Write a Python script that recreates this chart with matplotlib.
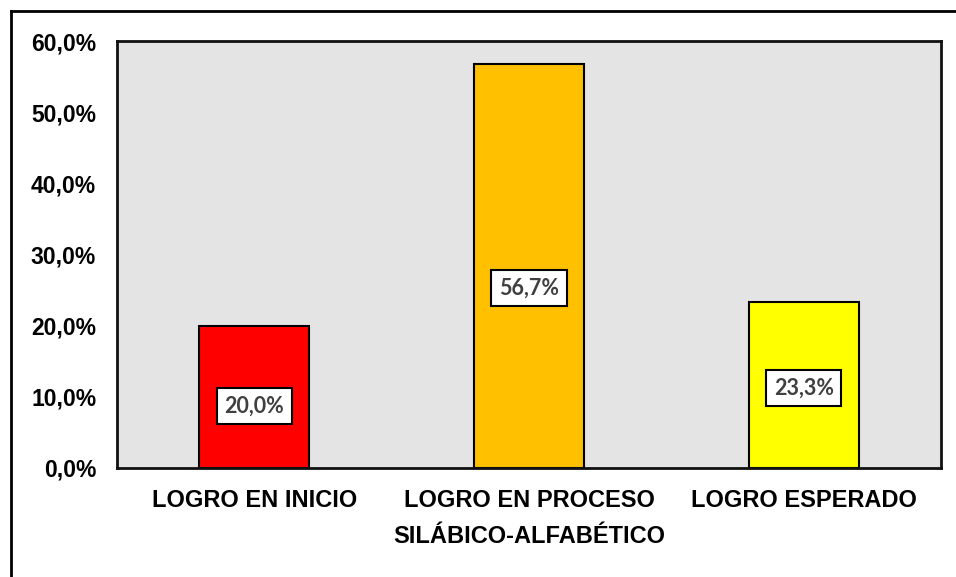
import matplotlib
matplotlib.use("Agg")
import matplotlib.pyplot as plt
from matplotlib.lines import Line2D
from matplotlib.ticker import FuncFormatter

categories = ["LOGRO EN INICIO", "LOGRO EN PROCESO\nSILÁBICO-ALFABÉTICO", "LOGRO ESPERADO"]
values = [20.0, 56.7, 23.3]
bar_colors = ["#FF0000", "#FFC000", "#FFFF00"]
label_y = [8.7, 25.3, 11.2]  # where the value boxes sit

fig = plt.figure(figsize=(9.56, 5.77), dpi=100)
ax = fig.add_axes([117 / 956, 1 - 468 / 577, 824 / 956, 427 / 577])
ax.set_facecolor("#E4E4E4")

x = range(len(categories))
ax.bar(x, values, width=0.4, color=bar_colors, edgecolor="black", linewidth=1.5, zorder=2)

for i, v in enumerate(values):
    ax.text(i, label_y[i], f"{v:.1f}%".replace(".", ","), ha="center", va="center",
            fontsize=15.5, fontweight="bold", family="Lato", color="#404040", zorder=3,
            bbox=dict(boxstyle="square,pad=0.35", facecolor="white", edgecolor="black", linewidth=1.5))

ax.set_xlim(-0.5, 2.5)
ax.set_ylim(0, 60)
ax.set_yticks(range(0, 61, 10))
ax.yaxis.set_major_formatter(FuncFormatter(lambda v, p: f"{v:.1f}%".replace(".", ",")))
ax.set_xticks(list(x))
ax.set_xticklabels(categories, linespacing=1.75)
ax.tick_params(axis="y", length=0, labelsize=16.5, pad=15)
ax.tick_params(axis="x", length=0, labelsize=17, pad=15)
for lab in ax.get_xticklabels() + ax.get_yticklabels():
    lab.set_fontweight("bold")
    lab.set_family("Liberation Sans")
for lab in ax.get_xticklabels():
    lab.set_verticalalignment("top")

for s in ax.spines.values():
    s.set_linewidth(2)
    s.set_color("#111111")

# outer frame (cropped chart border)
fig.add_artist(Line2D([11 / 956, 1], [1 - 11 / 577, 1 - 11 / 577], transform=fig.transFigure,
                      color="black", linewidth=2))
fig.add_artist(Line2D([11 / 956, 11 / 956], [0, 1 - 11 / 577], transform=fig.transFigure,
                      color="black", linewidth=2))

fig.savefig("out.png", dpi=100)
